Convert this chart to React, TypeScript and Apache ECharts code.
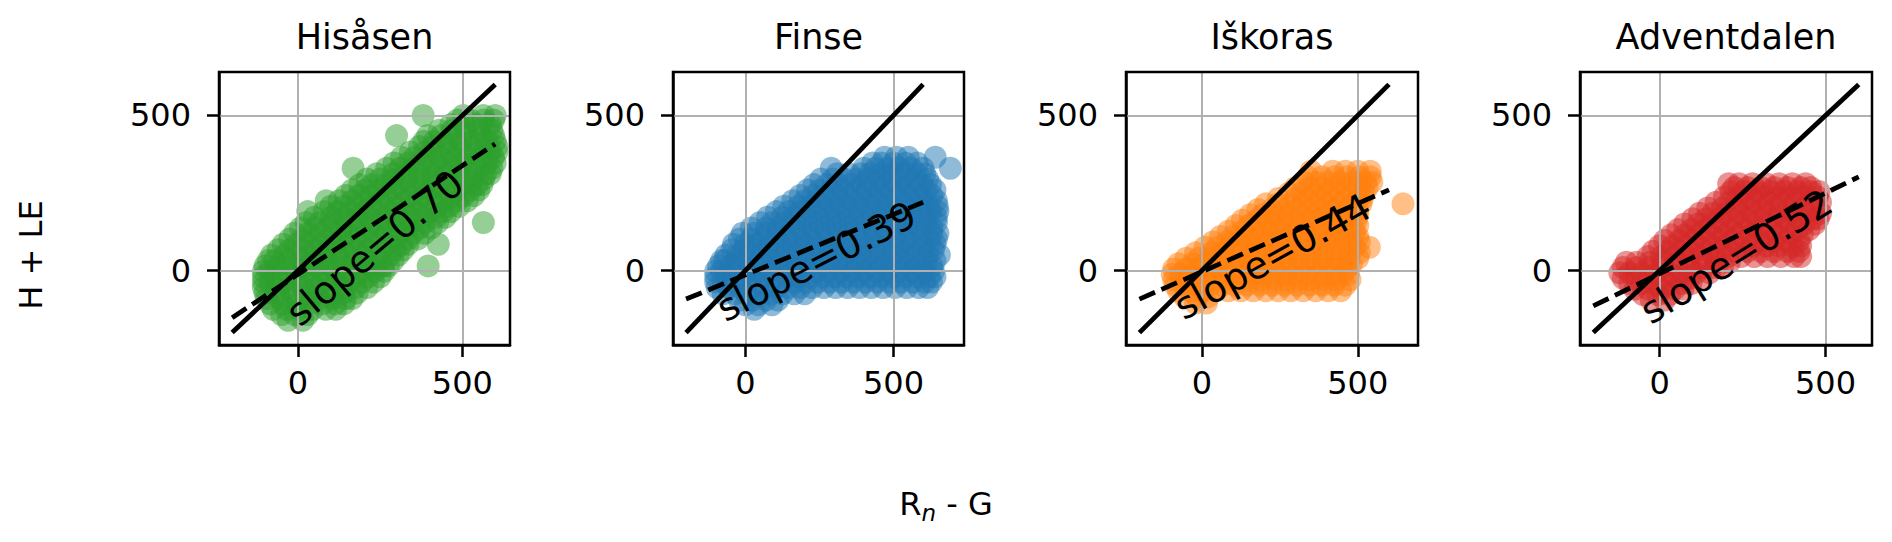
import React, { useEffect, useRef } from "react";
import * as echarts from "echarts";

const FONT = "DejaVu Sans";

const stations = ["Hisåsen", "Finse", "Iškoras", "Adventdalen"];
const colors = ["#2ca02c", "#1f77b4", "#ff7f0e", "#d62728"];
const slopes = [0.7, 0.39, 0.44, 0.52];
const intercepts = [-12, -14, -4, -10];
const slopeLabelPos: [number, number][] = [[234, 73], [240, 29], [227, 45], [231, 45]];
const slopeLabelRotation = [40, 27, 29, 32];
const xRanges: [number, number][] = [[-240, 645], [-244, 738], [-243, 693], [-240, 640]];
const yRange: [number, number] = [-240, 640];
const oneToOneX = [-200, 600];
const tickValues = [0, 500];

const hisasenRows: [number, number[]][] = [
  [-160, [-30, 15]],
  [-142, [-50, -10, 30]],
  [-125, [-75, -35, 5, 45, 85, 115]],
  [-107, [-85, -45, -5, 35, 75, 115, 140]],
  [-90, [-95, -55, -15, 25, 65, 105, 145, 165]],
  [-72, [-100, -60, -20, 20, 60, 100, 140, 180]],
  [-55, [-105, -65, -25, 15, 55, 95, 135, 175, 210]],
  [-37, [-105, -85, -45, -5, 35, 75, 115, 155, 195, 230]],
  [-20, [-105, -65, -25, 15, 55, 95, 135, 175, 215, 250]],
  [-2, [-105, -85, -45, -5, 35, 75, 115, 155, 195, 235, 262]],
  [15, [-100, -60, -20, 20, 60, 100, 140, 180, 220, 260, 275, 396]],
  [32, [-90, -70, -30, 10, 50, 90, 130, 170, 210, 250, 290]],
  [50, [-80, -40, 0, 40, 80, 120, 160, 200, 240, 280, 305]],
  [67, [-60, -25, 15, 55, 95, 135, 175, 215, 255, 295, 320]],
  [85, [-45, -5, 35, 75, 115, 155, 195, 235, 275, 315, 335, 427]],
  [102, [-25, 15, 55, 95, 135, 175, 215, 255, 295, 335, 365]],
  [120, [-10, 30, 70, 110, 150, 190, 230, 270, 310, 350, 385]],
  [137, [8, 50, 90, 130, 170, 210, 250, 290, 330, 370, 405]],
  [155, [25, 65, 105, 145, 185, 225, 265, 305, 345, 385, 425, 564]],
  [172, [50, 100, 140, 180, 220, 260, 300, 340, 380, 420, 448]],
  [190, [30, 80, 120, 160, 200, 240, 280, 320, 360, 400, 440, 465]],
  [207, [100, 140, 180, 220, 260, 300, 340, 380, 420, 460, 490]],
  [225, [86, 125, 165, 205, 245, 285, 325, 365, 405, 445, 485, 515]],
  [242, [145, 185, 225, 265, 305, 345, 385, 425, 465, 505, 535]],
  [260, [165, 205, 245, 285, 325, 365, 405, 445, 485, 525, 550]],
  [277, [188, 225, 265, 305, 345, 385, 425, 465, 505, 545, 560]],
  [295, [210, 250, 290, 330, 370, 410, 450, 490, 530, 565]],
  [312, [240, 290, 330, 370, 410, 450, 490, 530, 570, 585]],
  [330, [168, 270, 310, 350, 390, 430, 470, 510, 550, 590]],
  [347, [292, 335, 375, 415, 455, 495, 535, 575, 600]],
  [365, [315, 355, 395, 435, 475, 515, 555, 595]],
  [382, [342, 385, 425, 465, 505, 545, 585, 605]],
  [400, [370, 410, 450, 490, 530, 570, 605]],
  [417, [383, 415, 455, 495, 535, 575, 600]],
  [435, [300, 395, 435, 475, 515, 555, 595]],
  [452, [430, 470, 510, 550, 590]],
  [470, [465, 505, 545, 585]],
  [485, [485, 525, 565, 595]],
  [500, [381, 503, 564, 600]],
];

const finseRows: [number, number[]][] = [
  [-125, [30]],
  [-110, [0, 45, 90]],
  [-95, [-20, 25, 70, 110]],
  [-75, [-75, -35, 5, 45, 85, 125, 165, 200]],
  [-55, [-95, -55, -15, 25, 65, 105, 145, 185, 225, 265, 305, 345, 385, 425, 465, 505, 545, 585, 615]],
  [-37, [-100, -75, -35, 5, 45, 85, 125, 165, 205, 245, 285, 325, 365, 405, 445, 485, 525, 565, 605, 628]],
  [-20, [-100, -60, -20, 20, 60, 100, 140, 180, 220, 260, 300, 340, 380, 420, 460, 500, 540, 580, 620, 640]],
  [-2, [-100, -80, -40, 0, 40, 80, 120, 160, 200, 240, 280, 320, 360, 400, 440, 480, 520, 560, 600, 635]],
  [15, [-90, -50, -10, 30, 70, 110, 150, 190, 230, 270, 310, 350, 390, 430, 470, 510, 550, 590, 630]],
  [32, [-80, -70, -30, 10, 50, 90, 130, 170, 210, 250, 290, 330, 370, 410, 450, 490, 530, 570, 610, 640]],
  [50, [-65, -25, 15, 55, 95, 135, 175, 215, 255, 295, 335, 375, 415, 455, 495, 535, 575, 615, 655]],
  [67, [-45, -5, 35, 75, 115, 155, 195, 235, 275, 315, 355, 395, 435, 475, 515, 555, 595, 635]],
  [85, [-40, 0, 40, 80, 120, 160, 200, 240, 280, 320, 360, 400, 440, 480, 520, 560, 600, 640]],
  [102, [-20, 20, 60, 100, 140, 180, 220, 260, 300, 340, 380, 420, 460, 500, 540, 580, 620, 645]],
  [120, [-10, 30, 70, 110, 150, 190, 230, 270, 310, 350, 390, 430, 470, 510, 550, 590, 630, 650]],
  [137, [20, 70, 110, 150, 190, 230, 270, 310, 350, 390, 430, 470, 510, 550, 590, 630]],
  [155, [50, 90, 130, 170, 210, 250, 290, 330, 370, 410, 450, 490, 530, 570, 610, 645]],
  [172, [75, 125, 165, 205, 245, 285, 325, 365, 405, 445, 485, 525, 565, 605, 645]],
  [190, [105, 145, 185, 225, 265, 305, 345, 385, 425, 465, 505, 545, 585, 625, 650]],
  [207, [130, 180, 220, 260, 300, 340, 380, 420, 460, 500, 540, 580, 620, 648]],
  [225, [160, 200, 240, 280, 320, 360, 400, 440, 480, 520, 560, 600, 645]],
  [242, [185, 230, 270, 310, 350, 390, 430, 470, 510, 550, 590, 630]],
  [260, [210, 250, 290, 330, 370, 410, 450, 490, 530, 570, 610, 640]],
  [277, [232, 275, 315, 355, 395, 435, 475, 515, 555, 595, 625]],
  [295, [255, 295, 335, 375, 415, 455, 495, 535, 575, 615]],
  [312, [310, 350, 390, 420, 460, 500, 540, 580, 605]],
  [330, [290, 400, 440, 480, 520, 560, 600, 692]],
  [347, [430, 460, 500, 540, 580]],
  [365, [470, 510, 550, 641]],
];

const iskorasRows: [number, number[]][] = [
  [-105, [-20, 15]],
  [-85, [-55, -15, 20]],
  [-65, [-75, -35, 5, 45, 85, 125, 165, 205, 245, 285, 325, 365, 405, 445]],
  [-47, [-85, -55, -15, 25, 65, 105, 145, 185, 225, 265, 305, 345, 385, 425, 460]],
  [-30, [-90, -50, -10, 30, 70, 110, 150, 190, 230, 270, 310, 350, 390, 430, 475]],
  [-12, [-95, -70, -30, 10, 50, 90, 130, 170, 210, 250, 290, 330, 370, 410, 450, 470]],
  [5, [-90, -50, -10, 30, 70, 110, 150, 190, 230, 270, 310, 350, 390, 430, 465]],
  [22, [-75, -30, 10, 50, 90, 130, 170, 210, 250, 290, 330, 370, 410, 450, 480]],
  [40, [-50, -10, 30, 70, 110, 150, 190, 230, 270, 310, 350, 390, 430, 470, 500]],
  [57, [-20, 30, 70, 110, 150, 190, 230, 270, 310, 350, 390, 430, 470, 505]],
  [75, [10, 50, 90, 130, 170, 210, 250, 290, 330, 370, 410, 450, 490, 537]],
  [92, [35, 80, 120, 160, 200, 240, 280, 320, 360, 400, 440, 480, 505]],
  [110, [60, 100, 140, 180, 220, 260, 300, 340, 380, 420, 460, 500]],
  [127, [85, 130, 170, 210, 250, 290, 330, 370, 410, 450, 490]],
  [145, [110, 150, 190, 230, 270, 310, 350, 390, 430, 470, 500]],
  [162, [130, 175, 215, 255, 295, 335, 375, 415, 455, 495]],
  [180, [155, 195, 235, 275, 315, 355, 395, 435, 475, 500]],
  [197, [180, 225, 265, 305, 345, 385, 425, 465, 500]],
  [215, [205, 245, 285, 325, 365, 405, 445, 485, 510, 645]],
  [232, [245, 300, 340, 380, 420, 460, 500, 515]],
  [250, [280, 320, 360, 400, 440, 480, 520]],
  [267, [300, 345, 385, 425, 465, 505, 530]],
  [285, [325, 365, 405, 445, 485, 525, 545]],
  [302, [340, 385, 425, 465, 505, 540]],
  [320, [350, 420, 460, 500, 540]],
];

const adventdalenRows: [number, number[]][] = [
  [-95, [-25, 15]],
  [-77, [-50, -5, 30]],
  [-60, [-75, -35, 5, 45, 70]],
  [-42, [-90, -55, -15, 25, 65, 95]],
  [-25, [-110, -70, -30, 10, 50, 90, 125]],
  [-7, [-120, -90, -50, -10, 30, 70, 110, 150]],
  [10, [-110, -70, -30, 10, 50, 90, 130, 170, 190]],
  [27, [-100, -70, -30, 10, 50, 90, 130, 170, 210]],
  [45, [-35, 5, 45, 85, 125, 165, 205, 245, 285, 325, 365, 405, 425]],
  [62, [-20, 25, 65, 105, 145, 185, 225, 265, 305, 345, 385, 420]],
  [80, [0, 40, 80, 120, 160, 200, 240, 280, 320, 360, 400, 425]],
  [97, [15, 60, 100, 140, 180, 220, 260, 300, 340, 380, 420]],
  [115, [35, 75, 115, 155, 195, 235, 275, 315, 355, 395, 430]],
  [132, [55, 95, 135, 175, 215, 255, 295, 335, 375, 415, 450]],
  [150, [75, 115, 155, 195, 235, 275, 315, 355, 395, 435, 468]],
  [167, [100, 140, 180, 220, 260, 300, 340, 380, 420, 460, 478]],
  [185, [120, 160, 200, 240, 280, 320, 360, 400, 440, 485]],
  [202, [145, 190, 230, 270, 310, 350, 390, 430, 470]],
  [220, [170, 210, 250, 290, 330, 370, 410, 450, 485]],
  [237, [195, 235, 275, 315, 355, 395, 435, 475]],
  [255, [215, 255, 295, 335, 375, 415, 455, 480]],
  [268, [225, 265, 305, 345, 385, 425, 455]],
  [280, [208, 239, 280, 320, 360, 400, 440]],
];

const allRows = [hisasenRows, finseRows, iskorasRows, adventdalenRows];

function rowsToPoints(rows: [number, number[]][]): number[][] {
  const pts: number[][] = [];
  rows.forEach(([y, xs]) => xs.forEach((x) => pts.push([x, y])));
  return pts;
}

const gridLefts = [219, 673, 1126, 1580];
const gridWidths = [291, 291, 292, 292];
const GRID_TOP = 72;
const GRID_H = 273;

export default function App() {
  const ref = useRef<HTMLDivElement>(null);
  useEffect(() => {
    if (!ref.current) return;
    const chart = echarts.init(ref.current, undefined, { renderer: "svg" });

    const grids = stations.map((_, i) => ({
      left: gridLefts[i],
      top: GRID_TOP,
      width: gridWidths[i],
      height: GRID_H,
      show: true,
      borderColor: "#000",
      borderWidth: 2.5,
      backgroundColor: "transparent",
      z: 6,
    }));

    const xAxes = stations.map((_, i) => ({
      type: "value",
      gridIndex: i,
      min: xRanges[i][0],
      max: xRanges[i][1],
      splitLine: { show: false },
      axisLine: { show: true, onZero: false, lineStyle: { color: "#000", width: 2.5 } },
      axisTick: { show: true, customValues: tickValues, length: 12, lineStyle: { color: "#000", width: 2.5 } },
      axisLabel: { customValues: tickValues, fontSize: 32, color: "#000", fontFamily: FONT, margin: 22 },
    }));

    const yAxes = stations.map((_, i) => ({
      type: "value",
      gridIndex: i,
      min: yRange[0],
      max: yRange[1],
      splitLine: { show: false },
      axisLine: { show: true, onZero: false, lineStyle: { color: "#000", width: 2.5 } },
      axisTick: { show: true, customValues: tickValues, length: 12, lineStyle: { color: "#000", width: 2.5 } },
      axisLabel: { customValues: tickValues, fontSize: 32, color: "#000", fontFamily: FONT, margin: 28 },
    }));

    const series: any[] = [];
    stations.forEach((_, i) => {
      series.push({
        type: "scatter",
        xAxisIndex: i,
        yAxisIndex: i,
        data: rowsToPoints(allRows[i]),
        symbolSize: 23,
        itemStyle: { color: colors[i], opacity: 0.5 },
        silent: true,
        z: 1,
        markLine: {
          silent: true,
          symbol: "none",
          z: 2,
          animation: false,
          label: { show: false },
          lineStyle: { color: "#b0b0b0", width: 2, type: "solid" },
          data: [
            ...tickValues.map((v) => ({ xAxis: v })),
            ...tickValues.map((v) => ({ yAxis: v })),
          ],
        },
      });
      series.push({
        type: "line",
        xAxisIndex: i,
        yAxisIndex: i,
        data: oneToOneX.map((x) => [x, x]),
        showSymbol: false,
        symbol: "none",
        silent: true,
        lineStyle: { color: "#000", width: 4.8 },
        z: 3,
      });
      series.push({
        type: "line",
        xAxisIndex: i,
        yAxisIndex: i,
        data: oneToOneX.map((x) => [x, slopes[i] * x + intercepts[i]]),
        showSymbol: false,
        symbol: "none",
        silent: true,
        lineStyle: { color: "#000", width: 4.8, type: [17, 7] },
        z: 3,
      });
      series.push({
        type: "scatter",
        xAxisIndex: i,
        yAxisIndex: i,
        data: [slopeLabelPos[i]],
        symbolSize: 1,
        silent: true,
        itemStyle: { color: "rgba(0,0,0,0)" },
        z: 4,
        label: {
          show: true,
          position: "inside",
          formatter: "slope=" + slopes[i].toFixed(2),
          rotate: slopeLabelRotation[i],
          fontSize: 38,
          color: "#000",
          opacity: 1,
          fontFamily: FONT,
        },
      });
    });

    const option: any = {
      animation: false,
      title: stations.map((s, i) => ({
        text: s,
        left: gridLefts[i] + gridWidths[i] / 2,
        top: 19,
        padding: 0,
        textAlign: "center",
        textStyle: { fontSize: 35, fontWeight: "normal", color: "#000", fontFamily: FONT },
      })),
      grid: grids,
      xAxis: xAxes,
      yAxis: yAxes,
      series,
      graphic: [
        {
          type: "text",
          x: 31,
          y: 255,
          rotation: Math.PI / 2,
          style: {
            text: "H + LE",
            fontSize: 32,
            fill: "#000",
            fontFamily: FONT,
            align: "center",
            verticalAlign: "middle",
          },
        },
        {
          type: "text",
          x: 946,
          y: 504,
          style: {
            text: "{a|R}{b|n}{a| - G}",
            align: "center",
            verticalAlign: "middle",
            rich: {
              a: { fontSize: 32, fontFamily: FONT, fill: "#000", lineHeight: 40, verticalAlign: "middle" },
              b: { fontSize: 23, fontFamily: FONT, fontStyle: "italic", fill: "#000", lineHeight: 23, verticalAlign: "bottom" },
            },
          },
        },
      ],
    };
    chart.setOption(option);
    return () => chart.dispose();
  }, []);
  return (
    <div
      ref={ref}
      style={{ position: "absolute", left: 0, top: 0, width: 1892, height: 542 }}
    />
  );
}
